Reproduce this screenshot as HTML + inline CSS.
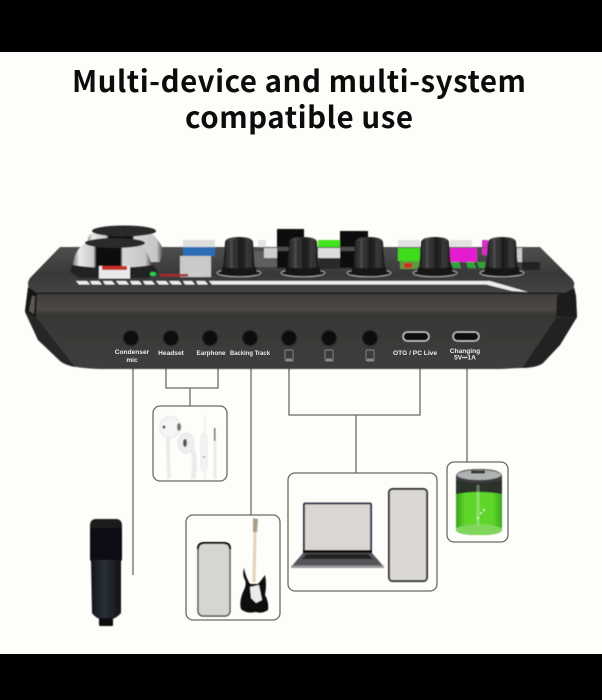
<!DOCTYPE html>
<html><head><meta charset="utf-8"><style>
html,body{margin:0;padding:0;background:#fdfdfa;width:602px;height:700px;overflow:hidden}
svg{display:block}
.t{font-family:"Noto Sans CJK SC","Liberation Sans",sans-serif;font-weight:700;font-size:29.500px;fill:#0c0c0c}
.l{font-family:"Liberation Sans",sans-serif;font-weight:700;font-size:6.600px;fill:#ececec;text-anchor:middle}
</style></head><body>
<svg width="602" height="700" viewBox="0 0 602 700" xmlns="http://www.w3.org/2000/svg">
<defs>
<filter id="soft" x="-5%" y="-5%" width="110%" height="110%"><feGaussianBlur stdDeviation="0.450"/></filter>
<linearGradient id="front" x1="0" y1="0" x2="0" y2="1"><stop offset="0" stop-color="#3a3837"/><stop offset=".28" stop-color="#4d4947"/><stop offset=".32" stop-color="#383736"/><stop offset="1" stop-color="#3e3d3d"/></linearGradient>
<linearGradient id="top" x1="0" y1="0" x2="0" y2="1"><stop offset="0" stop-color="#4f4f4e"/><stop offset=".6" stop-color="#383838"/><stop offset="1" stop-color="#454545"/></linearGradient>
<linearGradient id="knob" x1="0" y1="0" x2="1" y2="0"><stop offset="0" stop-color="#141414"/><stop offset=".25" stop-color="#4b4b4b"/><stop offset=".55" stop-color="#1c1c1c"/><stop offset=".82" stop-color="#3f3f3f"/><stop offset="1" stop-color="#111"/></linearGradient>
<linearGradient id="chrome" x1="0" y1="0" x2="1" y2="0"><stop offset="0" stop-color="#777"/><stop offset=".08" stop-color="#e9e9e9"/><stop offset=".26" stop-color="#c9c9c9"/><stop offset=".3" stop-color="#0d0d0d"/><stop offset=".6" stop-color="#101010"/><stop offset=".63" stop-color="#d7d7d7"/><stop offset=".92" stop-color="#c5c5c5"/><stop offset="1" stop-color="#444"/></linearGradient>
<linearGradient id="mic" x1="0" y1="0" x2="1" y2="0"><stop offset="0" stop-color="#121418"/><stop offset=".45" stop-color="#2a3038"/><stop offset="1" stop-color="#101216"/></linearGradient>
<linearGradient id="green" x1="0" y1="0" x2="1" y2="0"><stop offset="0" stop-color="#3aa51b"/><stop offset=".2" stop-color="#5fd52b"/><stop offset=".8" stop-color="#5fd52b"/><stop offset="1" stop-color="#39a81c"/></linearGradient>
<g id="k"><ellipse cx="0" cy="36" rx="22" ry="3.800" fill="#1b1b1b" stroke="#b5b5b5" stroke-width=".8"/><path d="M-16 33 L-14 5 Q-13 0 0 0 Q13 0 14 5 L16 33 Q0 37 -16 33Z" fill="url(#knob)"/><g stroke="#0c0c0c" stroke-width=".6" opacity=".7"><path d="M-10 4V33M-5 3V34M0 3V34M5 3V34M10 4V33"/></g><path d="M-17 30Q0 33 17 30L18 36Q0 40 -18 36Z" fill="#141414"/></g>
<g id="ph"><rect x="-4" y="0" width="8" height="11" rx="1" fill="none" stroke="#8b8b8b" stroke-width=".9"/><rect x="-3" y="8.500" width="6" height="2" fill="#8b8b8b"/></g>
</defs>

<rect width="602" height="52" fill="#000"/>
<rect y="654" width="602" height="46" fill="#000"/>

<text class="t" x="72" y="92" textLength="454" lengthAdjust="spacing">Multi-device and multi-system</text>
<text class="t" x="185" y="128" textLength="228" lengthAdjust="spacing">compatible use</text>

<!-- connectors -->
<g fill="none" stroke="#6a6a66" stroke-width="1.300">
<path d="M133 368V575"/>
<path d="M166 368V388H218V368"/>
<path d="M190 388V406"/>
<path d="M251 368V515"/>
<path d="M289 368V415H420V368"/>
<path d="M356 415V473"/>
<path d="M467 368V462"/>
<rect x="153" y="406" width="74" height="75" rx="7"/>
<rect x="186" y="515" width="94" height="105" rx="7"/>
<rect x="288" y="473" width="149" height="118" rx="7"/>
<rect x="447" y="462" width="61" height="80" rx="7"/>
</g>

<g filter="url(#soft)">
<!-- modules behind the knobs -->
<rect x="183" y="240" width="32" height="7" fill="#ddd"/>
<rect x="277" y="229" width="27" height="22" fill="#111"/>
<rect x="318" y="240" width="22" height="8" fill="#43e51c"/>
<rect x="340" y="231" width="28" height="20" fill="#111"/>
<rect x="398" y="240" width="22" height="8" fill="#e2e2e2"/>
<rect x="450" y="240" width="22" height="8" fill="#e2e2e2"/>
<rect x="258" y="240" width="8" height="8" fill="#e3e3e3"/>
<rect x="482" y="240" width="6" height="8" fill="#d82ec8"/>

<!-- device top -->
<path d="M60 247H540L572 279Q576 284 573 288L568 293H37L30 290Q26 284 30 278Z" fill="url(#top)"/>
<rect x="183" y="247" width="32" height="9" fill="#2c6db5"/>
<rect x="180" y="256" width="31" height="21" fill="#c9c9c9"/>
<rect x="398" y="248" width="22" height="13" fill="#3fdc1d"/>
<rect x="400" y="261" width="20" height="8" fill="#5c9a40"/>
<rect x="404" y="263" width="8" height="5" fill="#c8331f"/>
<rect x="450" y="248" width="27" height="14" fill="#e41fd0"/>
<rect x="482" y="248" width="6" height="7" fill="#d82ec8"/>
<path d="M451 262h8l2 6h-8zM466 262h8l2 6h-8zM477 262h8v6h-6z" fill="#2da63a"/>
<rect x="318" y="248" width="22" height="10" fill="#ddd"/>
<rect x="319" y="258" width="21" height="11" fill="#2a2a2a"/>
<rect x="252" y="251" width="25" height="16" fill="#5e5e5e"/>
<rect x="264" y="248" width="13" height="10" fill="#cfcfcf"/>
<rect x="517" y="248" width="5" height="14" fill="#ccc"/>
<rect x="522" y="262" width="18" height="8" fill="#222"/>
<rect x="277" y="251" width="27" height="17" fill="#111"/>
<rect x="340" y="251" width="28" height="17" fill="#111"/>

<!-- big knobs -->
<path d="M88 238Q92 226 124 226Q155 226 163 250L160 262H86Z" fill="url(#chrome)"/>
<ellipse cx="124" cy="231" rx="32" ry="5.500" fill="#2b2b2b"/>
<path d="M73 264Q76 241 100 239H128Q146 241 152 266Q112 272 73 266Z" fill="url(#chrome)"/>
<ellipse cx="115" cy="243" rx="30" ry="5" fill="#2b2b2b"/>
<path d="M72 265Q112 271 153 265L158 272L148 278H80L70 272Z" fill="#242424"/>
<rect x="99" y="266" width="31" height="12.500" fill="#e9e9e9"/>
<rect x="102" y="266" width="25" height="4" fill="#c83028"/>
<rect x="150" y="272" width="6" height="4" rx="2" fill="#2ecc4b"/>
<rect x="160" y="274" width="28" height="2.500" fill="#a52a2a"/>
<rect x="190" y="272" width="14" height="5" fill="#ccc"/>

<!-- small knobs -->
<use href="#k" x="239" y="237"/>
<use href="#k" x="303" y="237"/>
<use href="#k" x="369" y="237"/>
<use href="#k" x="435" y="237"/>
<use href="#k" x="502" y="237"/>

<!-- white strip -->
<g fill="#ececec">
<path d="M76 281h11l3 3.500h-11zM90 281h9l3 3.500h-10zM103 281h9l3 3.500h-10zM116 281h10l3 3.500h-10zM130 281h9l3 3.500h-10zM143 281h9l3 3.500h-10zM156 281h10l3 3.500h-10zM169 281h10l3 3.500h-10zM183 281h9l3 3.500h-10zM196 281h9l3 3.500h-10z"/>
<path d="M209 281H490L528 292L512 291L486 284.500H212Z"/>
</g>

<!-- device front -->
<path d="M37 293H568L574 287L576 296L577 317L560 345L543 363Q538 368 520 368L500 369H100Q72 368 63 363L38 340L25 310L28 288Z" fill="url(#front)"/>
<rect x="37" y="292.500" width="528" height="1.500" fill="#181818"/>
<path d="M28 287L37 293L36 317L25 312Z" fill="#191919"/>
<path d="M32 296L35 296L34 314L29 311Z" fill="#5a5a5a"/>
<path d="M574 288L565 293L557 295L556 317L577 317L576 296Z" fill="#1b1b1b"/>
<path d="M25 312L36 317L75 367Q65 365 60 361L38 340Z" fill="#262626"/>
<path d="M577 317L556 318L522 368Q535 367 543 363L560 345Z" fill="#232323"/>
<rect x="40" y="316.500" width="515" height="0.800" fill="#2b2b2b"/>

<!-- jacks -->
<g fill="#0a0a0a" stroke="#242424" stroke-width="1.200">
<circle cx="131" cy="338" r="7.500"/><circle cx="171" cy="338" r="7.500"/><circle cx="210" cy="338" r="7.500"/><circle cx="250" cy="338" r="7.500"/><circle cx="289" cy="338" r="7.500"/><circle cx="329" cy="338" r="7.500"/><circle cx="370" cy="338" r="7.500"/>
</g>
<g fill="#0c0c0c" stroke="#dcdcdc" stroke-width="1.100">
<rect x="403" y="332" width="26" height="9" rx="4.500"/>
<rect x="453" y="332" width="26" height="9" rx="4.500"/>
</g>
</g>

<!-- labels -->
<text class="l" x="132" y="354">Condenser</text>
<text class="l" x="132" y="362">mic</text>
<text class="l" x="171" y="355">Headset</text>
<text class="l" x="211" y="355" textLength="29" lengthAdjust="spacingAndGlyphs">Earphone</text>
<text class="l" x="250" y="355" textLength="40" lengthAdjust="spacingAndGlyphs">Backing Track</text>
<use href="#ph" x="289" y="350"/>
<use href="#ph" x="329" y="350"/>
<use href="#ph" x="370" y="350"/>
<text class="l" x="415" y="355">OTG / PC Live</text>
<text class="l" x="465" y="353">Changing</text>
<text class="l" x="465" y="359.500">5V⎓1A</text>

<g filter="url(#soft)">
<!-- earphones -->
<path d="M168 432Q168 460 169 479" stroke="#eaeaea" stroke-width="3.500" fill="none"/>
<circle cx="170" cy="427" r="10.500" fill="#f5f5f5" stroke="#e2e2e2" stroke-width=".8"/>
<circle cx="164" cy="427" r="1.500" fill="#444"/>
<ellipse cx="179" cy="427" rx="2" ry="4" fill="#777"/>
<path d="M193 450Q196 465 193 479" stroke="#ececec" stroke-width="5" fill="none"/>
<ellipse cx="186" cy="443" rx="8" ry="10" fill="#eee" stroke="#e2e2e2" stroke-width=".8"/>
<ellipse cx="185" cy="443" rx="2" ry="4" fill="#555"/>
<path d="M205 416V479" stroke="#ececec" stroke-width="1.500" fill="none"/>
<rect x="201" y="434" width="6" height="37" rx="3" fill="#f3f3f3" stroke="#e6e6e6" stroke-width=".7"/>
<circle cx="204" cy="457" r=".8" fill="#444"/>
<rect x="214" y="428" width="1.500" height="13" fill="#777"/>
<path d="M215 441V479" stroke="#ececec" stroke-width="3" fill="none"/>

<!-- microphone -->
<path d="M90 526Q90 519 96 519H116Q122 519 122 526V534H90Z" fill="#1c1c1e"/>
<rect x="90" y="528" width="32" height="34" rx="3" fill="#111113"/>
<path d="M91 560H121V613Q115 620 106 620Q97 620 92 613Z" fill="url(#mic)"/>
<rect x="99" y="618" width="14" height="8" rx="1" fill="#111"/>

<!-- phone + guitar -->
<rect x="198" y="543" width="32" height="73" rx="5" fill="#d7d5d1" stroke="#222" stroke-width="1.200"/>
<path d="M198 549Q198 543 204 543H224Q230 543 230 549" fill="none" stroke="#000" stroke-width="2"/>
<path d="M255 530L254 582" stroke="#e2d2b8" stroke-width="3"/>
<path d="M253 518L258 519L257 532L253 532Z" fill="#a89c8a"/>
<path d="M244 568Q242 575 245 580Q247 585 243 592Q239 602 241 609Q246 614 256 612Q262 614 268 610Q269 602 265 595Q267 584 265 575Q260 582 258 584H250Q246 578 244 568Z" fill="#0b0b0b"/>
<path d="M250 587L259 585L262 600L256 603L251 598Z" fill="#ececec"/>

<!-- laptop -->
<rect x="304" y="503.500" width="67" height="47.500" rx="1" fill="#dad6d1" stroke="#232338" stroke-width="1.800"/>
<rect x="303" y="550" width="69" height="3" fill="#111"/>
<path d="M303 553H372L384 567H291Z" fill="#55555a"/>
<path d="M307 554H368L373 559H302Z" fill="#222"/>
<rect x="291" y="565.500" width="93" height="2.500" fill="#999"/>
<!-- big phone -->
<rect x="389" y="489" width="38" height="92" rx="3.500" fill="#dbd8d4" stroke="#111" stroke-width="1.700"/>

<!-- battery -->
<path d="M456 476Q457 469 479 469Q501 469 502 476V530Q501 535 479 535Q457 535 456 530Z" fill="#3c3d3d"/>
<path d="M456 480Q479 486 502 480V494H456Z" fill="#2c302c"/>
<ellipse cx="479" cy="475" rx="22" ry="5" fill="#aeb2b2"/>
<rect x="471" y="470.500" width="14" height="3" fill="#333"/>
<path d="M456 494Q479 490 502 494V530Q501 535 479 535Q457 535 456 530Z" fill="url(#green)"/>
<path d="M456 528Q479 520 502 528V530Q501 535 479 535Q457 535 456 530Z" fill="#7fd65a"/>
<path d="M478 485V525" stroke="#d8f5c8" stroke-width="3" opacity=".35"/>
<g fill="#dff7c8"><circle cx="481" cy="513" r="1"/><circle cx="478" cy="518" r="1"/><circle cx="484" cy="510" r="1"/></g>
</g>
</svg>
</body></html>
